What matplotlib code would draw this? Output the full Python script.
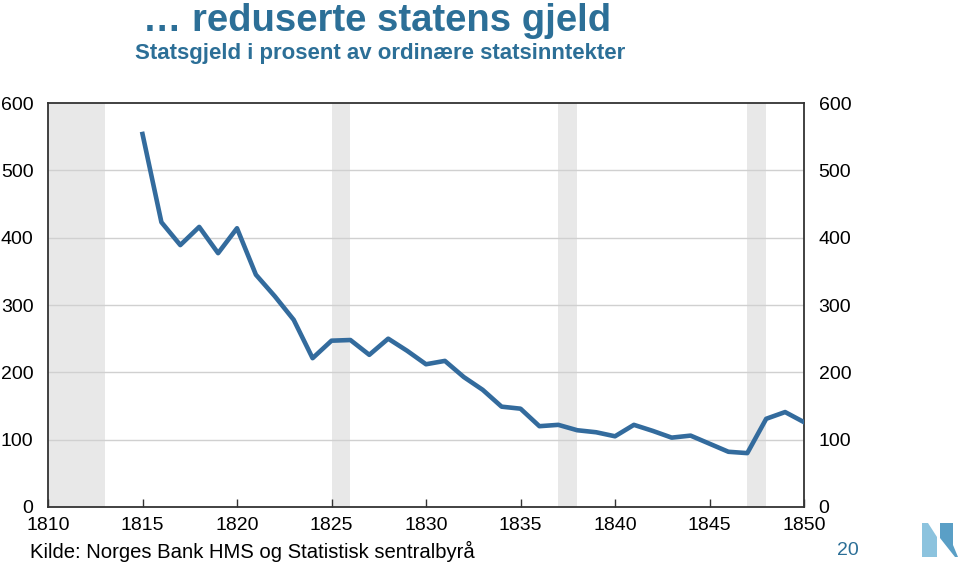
#!/usr/bin/env python
import numpy as np
import matplotlib
matplotlib.use('Agg')
import matplotlib.pyplot as plt
from matplotlib.patches import Polygon

years = list(range(1815, 1851))
gjeld = [554, 423, 389, 416, 377, 414, 345, 313, 278, 221,
         247, 248, 226, 250, 232, 212, 217, 193, 174, 149,
         146, 120, 122, 114, 111, 105, 122, 113, 103, 106,
         94, 82, 80, 131, 141, 126]

# grey periods (start, end)
perioder = [(1810, 1813), (1825, 1826), (1837, 1838), (1847, 1848)]

xticks = [1810, 1815, 1820, 1825, 1830, 1835, 1840, 1845, 1850]
yticks = [0, 100, 200, 300, 400, 500, 600]

title = '\u2026 reduserte statens gjeld'
subtitle = 'Statsgjeld i prosent av ordinære statsinntekter'
kilde = 'Kilde: Norges Bank HMS og Statistisk sentralbyrå'

blue = '#336b9d'
titleblue = '#2c6f97'

plt.rcParams['font.family'] = ['Liberation Sans', 'DejaVu Sans']

fig = plt.figure(figsize=(9.6, 5.63), dpi=100)
ax = fig.add_axes([0.05, 0.0995, 0.7875, 0.7175])

for a, b in perioder:
  ax.axvspan(a, b, color='#e8e8e8', lw=0, zorder=0)

for y in yticks[1:-1]:
  ax.axhline(y, color='#d0d0d0', lw=1, zorder=1)

ax.plot(years, gjeld, color=blue, lw=3.3, zorder=3)

ax.set_xlim(1810, 1850)
ax.set_ylim(0, 600)
ax.set_xticks(xticks)
ax.set_yticks(yticks)
ax.tick_params(axis='x', direction='in', length=6, width=1, pad=7, labelsize=14, color='#333333')
ax.tick_params(axis='y', left=False, right=False, labelleft=True, labelright=True, pad=7, labelsize=14)
for s in ax.spines.values():
  s.set_color('#333333')
  s.set_linewidth(1.3)

fig.text(0.393, 0.962, title, ha='center', va='center', fontsize=27.5, fontweight='bold', color=titleblue)
fig.text(0.396, 0.905, subtitle, ha='center', va='center', fontsize=16, fontweight='bold', color=titleblue)
fig.text(0.031, 0.02, kilde, ha='left', va='center', fontsize=14.6, color='black')
fig.text(0.883, 0.023, '20', ha='center', va='center', fontsize=14, color=titleblue)

# logo
def px(pts):
  return [(x / 960.0, 1 - y / 563.0) for x, y in pts]
fig.patches.append(Polygon(px([(922, 523), (928, 523), (937, 537), (937, 557), (922, 557)]),
                           closed=True, transform=fig.transFigure, color='#8cc3de', lw=0))
fig.patches.append(Polygon(px([(940, 523), (953, 523), (953, 545), (958, 557), (955, 557), (940, 538)]),
                           closed=True, transform=fig.transFigure, color='#5a9fc6', lw=0))

plt.savefig('out.png', dpi=100)
